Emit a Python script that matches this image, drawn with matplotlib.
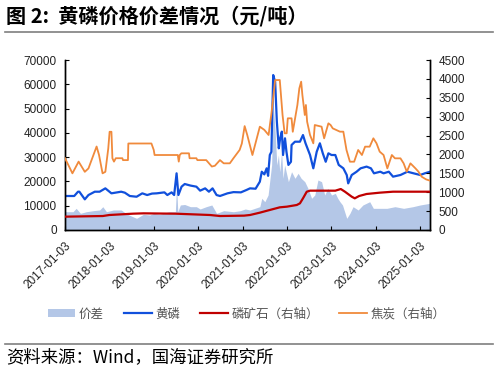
import matplotlib
matplotlib.use("Agg")
import matplotlib.pyplot as plt
from matplotlib.lines import Line2D
from matplotlib.patches import Patch
import pandas as pd

plt.rcParams['font.family'] = ['Liberation Sans', 'Noto Sans CJK SC', 'DejaVu Sans']

# ---------------- data ----------------
spread_dates = ["2017-01-03","2017-03-10","2017-04-05","2017-05-10","2017-06-28","2017-08-30","2017-10-15",
    "2017-11-10","2017-12-10","2018-02-05","2018-04-10","2018-06-01","2018-08-15","2018-10-10","2018-12-01",
    "2019-01-03","2019-02-20","2019-05-10","2019-06-30","2019-07-10","2019-07-20","2019-08-10","2019-09-15",
    "2019-11-01","2019-12-20","2020-01-20","2020-03-10","2020-04-25","2020-06-03","2020-08-01","2020-10-20",
    "2020-12-15","2021-01-25","2021-03-05","2021-05-25","2021-06-10","2021-07-05","2021-08-01","2021-08-30",
    "2021-09-12","2021-09-28","2021-10-12","2021-10-25","2021-11-05","2021-11-20","2021-12-02","2021-12-15",
    "2022-01-15","2022-02-10","2022-03-10","2022-04-05","2022-04-30","2022-05-30","2022-06-25","2022-07-25",
    "2022-08-20","2022-09-15","2022-10-15","2022-11-10","2022-12-05","2023-01-05","2023-02-05","2023-02-25",
    "2023-03-15","2023-04-05","2023-05-10","2023-06-05","2023-07-01","2023-08-12","2023-09-20","2023-11-15",
    "2023-12-15","2024-03-08","2024-04-05","2024-06-10","2024-08-20","2024-11-05","2025-01-03","2025-03-25"]
spread_values = [7530,7530,8920,6860,7530,8000,8235,
    9600,7530,8235,8235,6450,4800,6450,6180,
    6860,6450,7530,7530,18530,7530,10300,10500,
    9600,9600,8650,9600,10300,6860,7950,7530,
    7950,8650,8235,9600,13050,11650,14400,26760,
    52000,40500,26760,30880,24000,32240,21280,26760,
    19890,24000,21280,23340,21280,19890,17150,13050,
    14400,20590,19890,14400,17150,14400,15100,13050,
    11650,10300,4800,6860,9600,8235,10300,11650,
    8920,8920,8920,9600,8920,9600,10300,11000]

yp_dates = ["2017-01-03","2017-03-20","2017-04-20","2017-05-01","2017-06-15","2017-07-15","2017-09-05",
    "2017-10-15","2017-12-01","2018-01-20","2018-04-10","2018-05-10","2018-06-20","2018-08-15","2018-10-01",
    "2018-11-10","2018-12-20","2019-01-28","2019-04-01","2019-04-25","2019-05-30","2019-06-20","2019-07-10",
    "2019-07-25","2019-08-20","2019-09-15","2019-11-01","2019-12-20","2020-01-20","2020-03-01","2020-04-01",
    "2020-05-01","2020-06-03","2020-07-01","2020-09-01","2020-10-20","2020-12-20","2021-02-05","2021-03-05",
    "2021-04-20","2021-05-25","2021-06-10","2021-07-01","2021-07-20","2021-08-01","2021-08-15","2021-08-28",
    "2021-09-12","2021-09-28","2021-10-12","2021-10-28","2021-11-08","2021-11-22","2021-12-02","2021-12-18",
    "2021-12-30","2022-01-15","2022-02-05","2022-02-10","2022-03-10","2022-04-20","2022-05-15","2022-06-05",
    "2022-07-12","2022-08-08","2022-09-05","2022-10-01","2022-10-25","2022-11-18","2022-12-10","2023-01-05",
    "2023-02-05","2023-03-05","2023-04-12","2023-05-10","2023-05-22","2023-06-20","2023-07-30","2023-09-01",
    "2023-10-20","2023-11-25","2023-12-20","2024-02-10","2024-03-08","2024-04-20","2024-05-25","2024-07-25",
    "2024-09-20","2024-11-10","2025-01-03","2025-02-10","2025-03-25"]
yp_values = [14000,14000,15770,15770,12630,14400,15770,
    15770,17150,15100,15770,15370,14000,13700,15100,
    14400,15000,15100,15500,14400,15500,14400,23340,
    14400,17840,18940,18300,17840,16200,17150,15770,
    17150,14400,14000,15100,15600,15500,16500,17150,
    17000,19890,24000,22900,25400,22300,30900,32200,
    63800,61000,44600,33640,37760,40500,30880,37760,
    32240,26800,28100,35000,36360,36360,39100,35700,
    30880,25400,32240,35700,31580,28100,31580,30880,
    30880,26800,25400,22650,19200,22650,24000,25400,
    26100,25400,23340,24000,23340,24000,21960,22650,
    24000,23340,22650,23340,24000]

ore_dates = ["2017-01-03","2017-11-10","2018-01-03","2018-07-15","2018-10-10","2019-07-01","2020-04-10",
    "2020-07-01","2021-01-15","2021-03-05","2021-05-25","2021-08-15","2021-11-05","2022-01-03","2022-03-25",
    "2022-04-20","2022-05-15","2022-06-15","2022-07-12","2023-02-05","2023-03-22","2023-04-25","2023-06-20",
    "2023-07-15","2023-08-20","2023-10-20","2024-02-05","2024-05-25","2025-03-25"]
ore_values = [353,370,397,432,441,432,397,
    370,380,397,459,530,600,618,662,
    706,838,1014,1041,1041,1085,1014,882,
    838,900,953,988,1014,1014]

coke_dates = ["2017-01-03","2017-03-05","2017-04-25","2017-06-15","2017-07-15","2017-09-20","2017-10-10",
    "2017-11-08","2017-12-01","2017-12-25","2018-01-05","2018-01-20","2018-01-28","2018-02-10","2018-02-25",
    "2018-04-20","2018-04-25","2018-06-05","2018-06-08","2018-12-15","2019-01-03","2019-01-10","2019-07-20",
    "2019-07-28","2019-08-05","2019-08-18","2019-10-20","2019-10-25","2019-12-20","2019-12-28","2020-03-10",
    "2020-04-25","2020-05-20","2020-07-01","2020-08-01","2020-09-20","2020-10-20","2020-12-10","2020-12-28",
    "2021-01-20","2021-02-10","2021-03-25","2021-05-25","2021-07-01","2021-08-05","2021-08-30","2021-09-28",
    "2021-11-05","2021-11-28","2021-12-15","2022-01-01","2022-01-10","2022-02-10","2022-02-20","2022-03-30",
    "2022-04-15","2022-04-30","2022-05-10","2022-05-30","2022-06-08","2022-06-18","2022-07-12","2022-08-08",
    "2022-08-20","2022-10-15","2022-11-05","2022-12-10","2022-12-28","2023-01-15","2023-03-15","2023-04-12",
    "2023-05-08","2023-06-05","2023-07-10","2023-08-12","2023-09-12","2023-10-08","2023-11-15","2023-12-15",
    "2024-01-10","2024-02-05","2024-03-08","2024-04-08","2024-05-15","2024-06-10","2024-07-25","2024-08-20",
    "2024-09-15","2024-10-15","2024-11-25","2024-12-20","2025-01-15","2025-02-20","2025-03-25"]
coke_values = [1900,1500,1810,1540,1630,2210,1985,
    1500,1540,2160,2600,2600,1900,1810,1900,
    1900,1850,1850,2290,2290,2120,1985,1985,
    1810,1985,2030,2030,1900,1900,1850,1850,
    1680,1700,1850,1765,1765,1900,2120,2290,
    2750,2520,1985,2735,2650,2515,3130,3970,
    3970,3040,2560,2560,2956,2956,2600,3310,
    3750,3926,3574,3044,3310,2868,2515,2294,
    2779,2735,2427,2824,2780,2690,2603,2603,
    2118,1808,1808,2118,1985,2206,2206,2427,
    2294,2074,1985,1632,1985,1897,1897,1765,
    1544,1765,1632,1544,1412,1341,1306]

tick_labels = ["2017-01-03","2018-01-03","2019-01-03","2020-01-03","2021-01-03",
               "2022-01-03","2023-01-03","2024-01-03","2025-01-03"]
legend_labels = ["价差", "黄磷", "磷矿石（右轴）", "焦炭（右轴）"]
left_ticks = [0, 10000, 20000, 30000, 40000, 50000, 60000, 70000]
right_ticks = [0, 500, 1000, 1500, 2000, 2500, 3000, 3500, 4000, 4500]

# ---------------- style ----------------
c_area = "#b4c7e7"
c_blue = "#1150dc"
c_red = "#c00000"
c_orange = "#f08a3c"
tick_font = 8.5

fig = plt.figure(figsize=(4.98, 3.72), dpi=100)
ax = fig.add_axes([65/498, 1-230/372, (430-65)/498, 170/372])
ax2 = ax.twinx()

sd = pd.to_datetime(spread_dates)
ax.fill_between(sd, 0, spread_values, color=c_area, linewidth=0, zorder=1)
ax.plot(pd.to_datetime(yp_dates), yp_values, color=c_blue, lw=1.6, zorder=2)
ax2.plot(pd.to_datetime(ore_dates), ore_values, color=c_red, lw=1.6, zorder=3)
ax2.plot(pd.to_datetime(coke_dates), coke_values, color=c_orange, lw=1.3, zorder=3)

ax.set_ylim(0, 70000)
ax2.set_ylim(0, 4500)
ax.set_yticks(left_ticks)
ax2.set_yticks(right_ticks)
ax.set_xlim(pd.Timestamp("2017-01-03"), pd.Timestamp("2025-03-25"))
ax.set_xticks(pd.to_datetime(tick_labels))
ax.set_xticklabels(tick_labels, rotation=45, ha="right", rotation_mode="anchor")

for a in (ax, ax2):
    a.spines["top"].set_visible(False)
    for s in a.spines.values():
        s.set_linewidth(1.0)
        s.set_color("black")
    a.tick_params(direction="in", length=3, width=0.8, labelsize=tick_font, colors="black", labelcolor="#222222")
ax.tick_params(axis="y", pad=6)
ax2.tick_params(axis="y", pad=6)
ax.tick_params(axis="x", pad=7)
ax.patch.set_visible(False)

# legend
handles = [Patch(facecolor=c_area, edgecolor="none"),
           Line2D([0], [0], color=c_blue, lw=1.6),
           Line2D([0], [0], color=c_red, lw=1.6),
           Line2D([0], [0], color=c_orange, lw=1.3)]
fig.legend(handles, legend_labels, loc="center", bbox_to_anchor=(0.495, 1-314/372), ncol=4,
           frameon=False, prop={"family": ["Noto Sans CJK SC"], "size": 9},
           labelcolor="#555555", handlelength=2.2, handletextpad=0.3, columnspacing=1.6,
           handleheight=0.6)

# title and source
fig.text(6/498, 1-16/372, "图 2:  黄磷价格价差情况（元/吨）", fontsize=14.5, fontweight="bold",
         family=["Noto Sans CJK SC", "DejaVu Sans"], va="center", ha="left", color="black")
fig.add_artist(Line2D([5/498, 493/498], [1-32/372, 1-32/372], color="#7f7f7f", lw=1.2))
fig.add_artist(Line2D([5/498, 493/498], [1-344/372, 1-344/372], color="#7f7f7f", lw=1.2))
fig.text(6/498, 1-357/372, "资料来源：Wind，国海证券研究所", fontsize=12.5,
         family=["Noto Sans CJK SC", "DejaVu Sans"], va="center", ha="left", color="black")

fig.savefig("out.png", dpi=100)
